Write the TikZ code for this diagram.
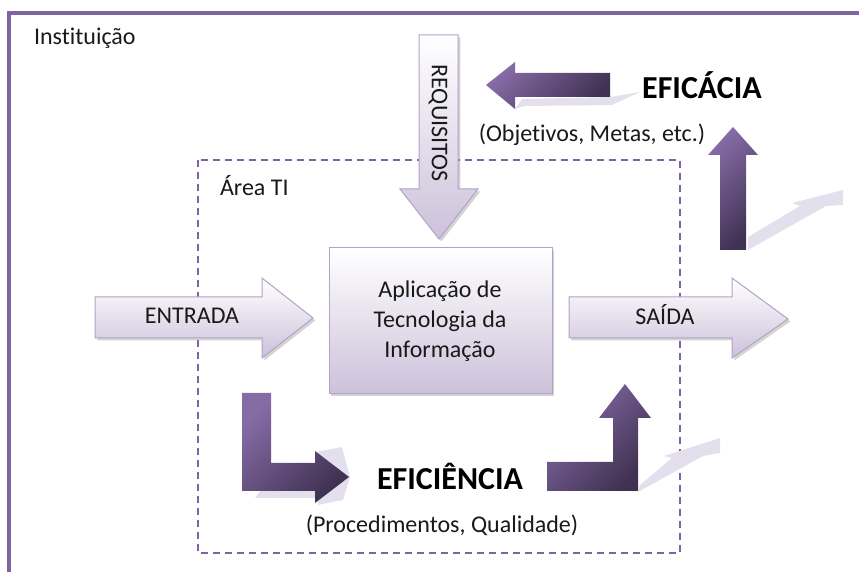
\documentclass[tikz,border=0pt]{standalone}
\usepackage{fontspec}
\setmainfont{Carlito}[Ligatures=NoCommon]
\usetikzlibrary{shadows}

\definecolor{lila}{HTML}{8064A2}
\definecolor{lilaDark}{HTML}{3F3151}
\definecolor{lilaLight}{HTML}{CCC1DA}
\definecolor{lilaEdge}{HTML}{B3A2C7}
\definecolor{lilaGlint}{HTML}{E4DFEC}

\begin{document}
\begin{tikzpicture}[x=0.5pt,y=-0.5pt,
    light/.style={draw=lilaEdge, line width=0.5pt, top color=white, bottom color=lilaLight,
      drop shadow={shadow xshift=1.2pt, shadow yshift=-1.2pt, opacity=0.35}},
    dark/.style={top color=lila!95!white, bottom color=lilaDark, shading angle=45},
    glint/.style={fill=lilaGlint},
    txt/.style={font=\fontsize{12}{15}\selectfont, text=black!90},
    big/.style={font=\fontsize{16}{19}\bfseries, text=black}]
        \useasboundingbox (0,0) rectangle (859,572);

        % frames
        \draw[lila, line width=2pt] (9,590) -- (9,13) -- (880,13);
        \draw[lila, line width=0.75pt, dash pattern=on 3.5pt off 2.5pt] (198,160) rectangle (680,553);

        % reflections
        \fill[glint] (515,109) -- (522,99) -- (610,97) -- (640,92) -- (612,105) -- (525,106) -- cycle;
        \fill[glint] (748,250) -- (748,237) -- (800,206) -- (792,203) -- (843,190) -- (843,205) -- (826,206) -- cycle;
        \fill[glint] (638,492) -- (640,485) -- (672,458) -- (664,456) -- (720,438) -- (720,453) -- (703,456) -- cycle;
        \fill[glint] (316,452) -- (342,447) -- (350,477) -- (343,500) -- (318,505) -- cycle;
        \fill[glint] (255,498) -- (260,491) -- (318,491) -- (316,498) -- cycle;

        % light arrows and box
        \path[light] (419,35) -- (458,35) -- (458,189) -- (478,189) -- (439,239) -- (400,189) -- (419,189) -- cycle;
        \path[light] (95,297) -- (262,297) -- (262,278) -- (313,318) -- (262,358) -- (262,338) -- (95,338) -- cycle;
        \path[light] (569,297) -- (732,297) -- (732,278) -- (788,319) -- (732,358) -- (732,338) -- (569,338) -- cycle;
        \path[light] (329,248) rectangle (552,394);

        % dark arrows
        \shade[dark] (610,73) -- (515,73) -- (515,62) -- (486,85) -- (515,109) -- (515,97) -- (610,97) -- cycle;
        \shade[dark] (720,250) -- (720,155) -- (708,155) -- (733,127) -- (758,155) -- (746,155) -- (746,250) -- cycle;
        \shade[dark] (242,393) -- (271,393) -- (271,463) -- (315,463) -- (315,451) -- (349,477) -- (315,503) -- (315,491) -- (242,491) -- cycle;
        \shade[dark] (547,462) -- (613,462) -- (613,418) -- (599,418) -- (625,384) -- (651,418) -- (638,418) -- (638,491) -- (547,491) -- cycle;

        % labels
        \node[txt, anchor=west] (inst) at (27,38) {Instituição};
        \node[txt, anchor=west] (area) at (213,186) {Área TI};
        \node[txt, rotate=-90] (req) at (438,123) {REQUISITOS};
        \node[txt, align=center] (app) at (440,321) {Aplicação de\\Tecnologia da\\Informação};
        \node[txt] (entrada) at (192,316) {ENTRADA};
        \node[txt] (saida) at (665,315) {SAÍDA};
        \node[big] (eficacia) at (702,85) {EFICÁCIA};
        \node[txt] (objetivos) at (592,135) {(Objetivos, Metas, etc.)};
        \node[big] (eficiencia) at (450,476) {EFICIÊNCIA};
        \node[txt] (proced) at (442,525) {(Procedimentos, Qualidade)};
      \end{tikzpicture}
\end{document}
